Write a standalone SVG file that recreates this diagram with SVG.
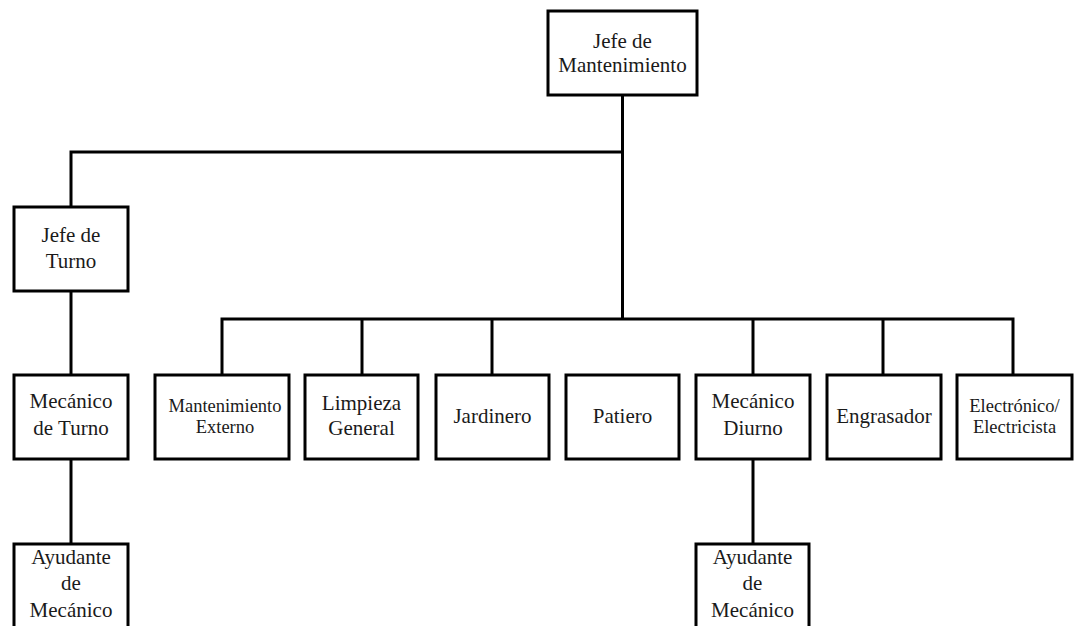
<svg xmlns="http://www.w3.org/2000/svg" width="1075" height="626" viewBox="0 0 1075 626">
<style>
.box{fill:#fff;stroke:#000;stroke-width:3}
.ln{fill:none;stroke:#000;stroke-width:3}
text{fill:#1a1a1a;text-anchor:middle}
</style>
<rect width="1075" height="626" fill="#fff"/>
<g id="connectors" class="ln">
<path d="M622.5 95V319"/>
<path d="M71 207V152H622.5"/>
<path d="M71 291V375"/>
<path d="M71 459V544"/>
<path d="M222 375V319H1013V375"/>
<path d="M362 319V375"/>
<path d="M492 319V375"/>
<path d="M753 319V375"/>
<path d="M883 319V375"/>
<path d="M753 459V544"/>
</g>
<g font-family="Liberation Serif, Times New Roman, serif" font-size="21">
<g id="jefe-mantenimiento">
<rect class="box" x="548" y="11" width="149" height="84"/>
<text x="622.5" y="48">Jefe de</text>
<text x="622.5" y="72">Mantenimiento</text>
</g>
<g id="jefe-turno">
<rect class="box" x="14" y="207" width="114" height="84"/>
<text x="71" y="242">Jefe de</text>
<text x="71" y="268">Turno</text>
</g>
<g id="mecanico-turno">
<rect class="box" x="14" y="375" width="114" height="84"/>
<text x="71" y="408">Mecánico</text>
<text x="71" y="435">de Turno</text>
</g>
<g id="ayudante-1">
<rect class="box" x="14" y="544" width="114" height="90"/>
<text x="71" y="564">Ayudante</text>
<text x="71" y="590">de</text>
<text x="71" y="617">Mecánico</text>
</g>
<g id="mantenimiento-externo">
<rect class="box" x="155" y="375" width="134" height="84"/>
<text font-size="18.5" x="225" y="412">Mantenimiento</text>
<text font-size="18.5" x="225" y="433">Externo</text>
</g>
<g id="limpieza-general">
<rect class="box" x="305" y="375" width="113" height="84"/>
<text x="361.5" y="410">Limpieza</text>
<text x="361.5" y="435">General</text>
</g>
<g id="jardinero">
<rect class="box" x="436" y="375" width="113" height="84"/>
<text x="492.5" y="423">Jardinero</text>
</g>
<g id="patiero">
<rect class="box" x="566" y="375" width="113" height="84"/>
<text x="622.5" y="423">Patiero</text>
</g>
<g id="mecanico-diurno">
<rect class="box" x="696" y="375" width="114" height="84"/>
<text x="753" y="408">Mecánico</text>
<text x="753" y="435">Diurno</text>
</g>
<g id="engrasador">
<rect class="box" x="827" y="375" width="114" height="84"/>
<text x="884" y="423">Engrasador</text>
</g>
<g id="electronico">
<rect class="box" x="957" y="375" width="115" height="84"/>
<text font-size="18.5" x="1014.5" y="412">Electrónico/</text>
<text font-size="18.5" x="1014.5" y="433">Electricista</text>
</g>
<g id="ayudante-2">
<rect class="box" x="696" y="544" width="113" height="90"/>
<text x="752.5" y="564">Ayudante</text>
<text x="752.5" y="590">de</text>
<text x="752.5" y="617">Mecánico</text>
</g>
</g>
</svg>
